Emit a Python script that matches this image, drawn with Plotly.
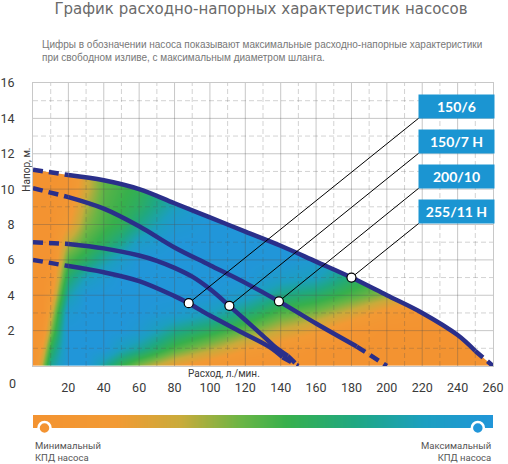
import numpy as np
import plotly.graph_objects as go

# pump curves: flow (l/min) vs head (m)
flow_150_6 = [0, 20, 40, 60, 80, 88, 100, 120, 134, 141, 150]
head_150_6 = [6.0, 5.65, 5.3, 4.8, 3.95, 3.55, 2.85, 1.8, 1.05, 0.5, 0]

flow_150_7 = [0, 20, 40, 60, 70, 80, 90, 100, 111, 120, 130, 136, 144, 150]
head_150_7 = [7.0, 6.9, 6.65, 6.25, 5.95, 5.55, 5.05, 4.35, 3.4, 2.6, 1.7, 1.15, 0.57, 0]

flow_200_10 = [0, 20, 40, 60, 80, 100, 120, 140, 160, 183, 200]
head_200_10 = [10.05, 9.55, 8.9, 7.9, 6.7, 5.7, 4.7, 3.6, 2.4, 1.1, 0]

flow_255_11 = [0, 20, 40, 60, 80, 100, 120, 140, 160, 180, 200, 220, 240, 250, 260]
head_255_11 = [11.1, 10.8, 10.5, 10.0, 9.2, 8.4, 7.6, 6.8, 5.9, 5.0, 4.0, 3.0, 1.75, 0.85, 0]

pump_names = ["150/6", "150/7 H", "200/10", "255/11 H"]
pump_flows = [flow_150_6, flow_150_7, flow_200_10, flow_255_11]
pump_heads = [head_150_6, head_150_7, head_200_10, head_255_11]
solid_from = [20, 20, 20, 20]
solid_to = [141, 144, 183, 250]
marker_flow = [88, 111, 139, 180]

eff_flow = [0, 5, 10, 20, 30, 40, 50, 60, 80, 100, 120, 140, 160, 180, 200, 220, 240, 260]
eff_head = list(range(0, 12))
eff_by_flow = [
    [0, 0, 0, 0, 0, 0, 0, 0, 0, 0, 0, 0],
    [0.35, 0.2, 0.05, 0, 0, 0, 0, 0, 0, 0, 0, 0],
    [0.75, 0.6, 0.42, 0.28, 0.15, 0.05, 0, 0, 0, 0, 0, 0],
    [1, 1, 1, 0.95, 0.8, 0.65, 0.5, 0.35, 0.18, 0.1, 0.05, 0.02],
    [1, 1, 1, 1, 1, 0.85, 0.62, 0.5, 0.42, 0.36, 0.3, 0.28],
    [0.75, 1, 1, 1, 1, 0.95, 0.78, 0.6, 0.52, 0.5, 0.48, 0.46],
    [0.55, 0.85, 1, 1, 1, 1, 0.9, 0.72, 0.58, 0.55, 0.53, 0.52],
    [0.4, 0.75, 0.95, 1, 1, 1, 1, 0.9, 0.72, 0.62, 0.58, 0.56],
    [0.2, 0.5, 0.72, 0.95, 1, 1, 1, 1, 0.95, 0.85, 0.78, 0.75],
    [0.08, 0.35, 0.6, 0.85, 1, 1, 1, 1, 1, 1, 1, 1],
    [0, 0.2, 0.45, 0.68, 0.9, 1, 1, 1, 1, 1, 1, 1],
    [0, 0.1, 0.3, 0.5, 0.7, 0.9, 1, 1, 1, 1, 1, 1],
    [0, 0.02, 0.2, 0.42, 0.62, 0.85, 0.95, 1, 1, 1, 1, 1],
    [0, 0, 0.05, 0.28, 0.5, 0.65, 0.8, 0.9, 1, 1, 1, 1],
    [0, 0, 0, 0.12, 0.38, 0.52, 0.65, 0.75, 0.8, 0.8, 0.8, 0.8],
    [0, 0, 0, 0.05, 0.22, 0.38, 0.5, 0.55, 0.6, 0.6, 0.6, 0.6],
    [0, 0, 0, 0, 0.08, 0.2, 0.3, 0.35, 0.4, 0.4, 0.4, 0.4],
    [0, 0, 0, 0, 0, 0, 0, 0, 0, 0, 0, 0],
]
legend_levels = [0, 1]

x_ticks = list(range(20, 261, 20))
y_ticks = list(range(2, 17, 2))

scale = [[0.0, "#f39331"], [0.18, "#f29a34"], [0.32, "#c9ab3b"], [0.45, "#6bb545"],
         [0.55, "#37b04c"], [0.7, "#1fa882"], [0.85, "#1c9fc0"], [1.0, "#2196d9"]]
navy = "#2a2f8a"

W, H = 508, 464
ML, MR, MT = 33, 15, 83
PW = W - ML - MR

def fx(px):   # page pixel -> paper x
    return (px - ML) / PW

def fy(px):   # page pixel -> paper y
    return (H - px) / (H - MT)

fig = go.Figure()

fig.add_trace(go.Heatmap(x=eff_flow, y=eff_head, z=np.array(eff_by_flow).T,
                         colorscale=scale, zmin=0, zmax=1, zsmooth="best",
                         showscale=False, hoverinfo="skip"))

# white above the top curve
fig.add_trace(go.Scatter(x=flow_255_11 + [262, 262, -2, -2],
                         y=head_255_11 + [-0.2, 17, 17, head_255_11[0]],
                         fill="toself", fillcolor="white", mode="none", hoverinfo="skip"))

# grid on top of the colour field
def grid_lines(vals, vertical):
    xs, ys = [], []
    for v in vals:
        if vertical:
            xs += [v, v, None]; ys += [0, 16, None]
        else:
            xs += [0, 260, None]; ys += [v, v, None]
    return xs, ys

major = dict(color="rgba(80,80,80,0.32)", width=1)
minor = dict(color="rgba(80,80,80,0.25)", width=1, dash="5px,3px")
for vals, vert, style in [(range(20, 260, 20), True, major), (range(2, 16, 2), False, major),
                          (range(10, 260, 20), True, minor), (range(1, 16, 2), False, minor)]:
    gx, gy = grid_lines(vals, vert)
    fig.add_trace(go.Scatter(x=gx, y=gy, mode="lines", line=style, hoverinfo="skip"))

# pump curves: dashed head/tail, solid middle
for fl, hd, s0, s1 in zip(pump_flows, pump_heads, solid_from, solid_to):
    fl = np.array(fl); hd = np.array(hd)
    for mask, dash in [(fl <= s0, "10px,6px"), ((fl >= s0) & (fl <= s1), "solid"), (fl >= s1, "10px,6px")]:
        fig.add_trace(go.Scatter(x=fl[mask], y=hd[mask], mode="lines",
                                 line=dict(color=navy, width=4.5, dash=dash, shape="spline", smoothing=1),
                                 hoverinfo="skip"))

# leaders and labels
box_x0, box_x1 = 218, 260.5
box_centers = [14.67, 12.69, 10.71, 8.72]
box_half = 0.66
mk_x, mk_y = [], []
for name, fl, hd, mf, bc in zip(pump_names, pump_flows, pump_heads, marker_flow, box_centers):
    my = float(np.interp(mf, fl, hd))
    mk_x.append(mf); mk_y.append(my)
    fig.add_trace(go.Scatter(x=[mf, box_x0], y=[my, bc - box_half], mode="lines",
                             line=dict(color="black", width=1), hoverinfo="skip"))
    fig.add_annotation(x=(box_x0 + box_x1) / 2, y=bc, xref="x", yref="y", text="<b>%s</b>" % name,
                       showarrow=False, width=73, height=21, bgcolor="#1b95d2", borderpad=1,
                       font=dict(family="Lato", size=14, color="white"))
fig.add_trace(go.Scatter(x=mk_x, y=mk_y, mode="markers",
                         marker=dict(size=9, color="white", line=dict(color="black", width=1.2)),
                         hoverinfo="skip"))

# efficiency legend bar
fig.add_trace(go.Heatmap(x=legend_levels, y=[-0.5, 0.5], z=[legend_levels, legend_levels],
                         colorscale=scale, zmin=0, zmax=1, zsmooth="best", showscale=False,
                         hoverinfo="skip", xaxis="x2", yaxis="y2"))
fig.add_trace(go.Scatter(x=[0.025, 0.967], y=[-0.5, -0.5], mode="markers", xaxis="x2", yaxis="y2",
                         cliponaxis=False, hoverinfo="skip",
                         marker=dict(size=12, color=[scale[0][1], scale[-1][1]], line=dict(color="white", width=2.5))))

tick_font = dict(family="Roboto", size=12.5, color="#3a3a3a")
fig.update_layout(
    width=W, height=H, margin=dict(l=ML, r=MR, t=MT, b=0, autoexpand=False),
    paper_bgcolor="white", plot_bgcolor="white", showlegend=False,
    title=dict(text="График расходно-напорных характеристик насосов", x=261 / W, xanchor="center",
               y=1 - 9 / H, yanchor="middle", font=dict(family="DejaVu Sans", size=15, color="#6a6a6a")),
    xaxis=dict(domain=[0, 1], range=[0, 260], tickvals=x_ticks, showgrid=False, zeroline=False,
               showline=True, mirror=True, linecolor="#c8c8c8", ticks="", ticklabelstandoff=10,
               tickfont=tick_font, anchor="y"),
    yaxis=dict(domain=[fy(366), 1], range=[0, 16], tickvals=y_ticks, showgrid=False, zeroline=False,
               showline=True, mirror=True, linecolor="#c8c8c8", ticks="", ticklabelstandoff=15,
               tickfont=tick_font, anchor="x"),
    xaxis2=dict(domain=[0, 1], range=[0, 1], visible=False, anchor="y2"),
    yaxis2=dict(domain=[fy(428), fy(415)], range=[-0.5, 0.5], visible=False, anchor="x2"),
)

note = dict(xref="paper", yref="paper", showarrow=False, xanchor="center", yanchor="middle")
fig.add_annotation(text="Цифры в обозначении насоса показывают максимальные расходно-напорные характеристики<br>"
                        "при свободном изливе, с максимальным диаметром шланга.",
                   **{**note, "xanchor": "left"}, x=fx(40), y=fy(51.5), align="left",
                   font=dict(family="Liberation Sans", size=10, color="#777777"))
fig.add_annotation(text="0", **note, x=fx(12), y=fy(383), font=tick_font)
fig.add_annotation(text="Напор, м.", **{**note, "yref": "y"}, x=fx(27), y=11.1, textangle=-90,
                   font=dict(family="Roboto", size=10, color="#3a3a3a"))
fig.add_annotation(text="Расход, л./мин.", **{**note, "xref": "x"}, x=108, y=fy(373),
                   font=dict(family="Roboto", size=10, color="#3a3a3a"))
fig.add_annotation(text="Минимальный<br>КПД насоса", **{**note, "xanchor": "left"}, x=0, y=fy(451.5),
                   align="left", font=dict(family="Roboto", size=9.5, color="#555555"))
fig.add_annotation(text="Максимальный<br>КПД насоса", **{**note, "xanchor": "right"}, x=1, y=fy(451.5),
                   align="right", font=dict(family="Roboto", size=9.5, color="#555555"))

# the page body has a default 8px margin; drop it so the figure sits in the corner
fig.write_html("out.html", config={"displayModeBar": False},
               post_script="document.body.style.margin='0px';")
